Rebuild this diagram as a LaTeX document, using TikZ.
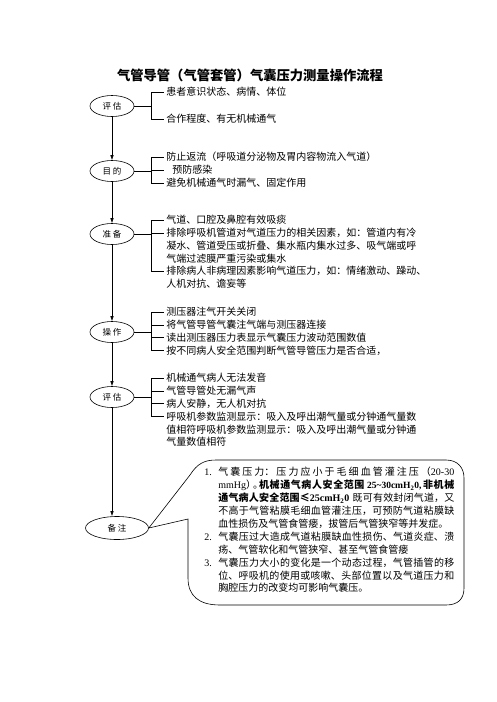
\documentclass[tikz,border=0pt]{standalone}
\usepackage{fontspec}
\setmainfont{Noto Sans CJK SC}
\newfontfamily\latinfont{Liberation Serif}
\XeTeXlinebreaklocale "zh"
\XeTeXlinebreakskip=0pt plus 2pt minus 0.7pt
\usetikzlibrary{arrows.meta,shapes.geometric}

\tikzset{
  stage/.style={draw, ellipse, minimum width=44pt, minimum height=21pt,
    inner sep=0pt, font=\fontsize{8.5}{10}\selectfont},
  item/.style={anchor=west, inner xsep=2pt, inner ysep=0pt,
    font=\fontsize{10}{12}\selectfont},
  flow/.style={-{Latex[length=5pt,width=3.5pt]}},
}

\begin{document}
\begin{tikzpicture}[x=1pt, y=-1pt, line width=0.6pt]
  \useasboundingbox (0,0) rectangle (496,702);

  % title
  \node[font=\fontsize{13.3}{15}\selectfont\bfseries] (title) at (250,75)
    {气管导管（气管套管）气囊压力测量操作流程};

  % stages
  \node[stage] (e1) at (112,106) {评\ 估};
  \node[stage] (e2) at (112,171) {目\ 的};
  \node[stage] (e3) at (112,234) {准\ 备};
  \node[stage] (e4) at (112,332) {操\ 作};
  \node[stage] (e5) at (112,397) {评\ 估};
  \node[stage, minimum width=63pt, minimum height=23pt] (bz) at (117,528) {备\ 注};

  \draw[flow] (e1) -- (e2);
  \draw[flow] (e2) -- (e3);
  \draw[flow] (e3) -- (e4);
  \draw[flow] (e4) -- (e5);
  \draw[flow] (e5.south) -- (e5.south |- bz.north);

  % item lines
  \foreach \txt [count=\i] in {患者意识状态、病情、体位, 合作程度、有无机械通气} {
    \node[item] (g1-\i) at (164,{92+27*(\i-1)}) {\txt};
  }
  \foreach \txt [count=\i] in {防止返流（呼吸道分泌物及胃内容物流入气道）,
      \hspace{6pt}预防感染, 避免机械通气时漏气、固定作用} {
    \node[item] (g2-\i) at (164,{157+13*(\i-1)}) {\txt};
  }
  \foreach \txt [count=\i] in {气道、口腔及鼻腔有效吸痰,
      排除呼吸机管道对气道压力的相关因素，如：管道内有冷,
      凝水、管道受压或折叠、集水瓶内集水过多、吸气端或呼,
      气端过滤膜严重污染或集水,
      排除病人非病理因素影响气道压力，如：情绪激动、躁动、,
      人机对抗、谵妄等} {
    \node[item] (g3-\i) at (164,{220+12.8*(\i-1)}) {\txt};
  }
  \foreach \txt [count=\i] in {测压器注气开关关闭, 将气管导管气囊注气端与测压器连接,
      读出测压器压力表显示气囊压力波动范围数值,
      按不同病人安全范围判断气管导管压力是否合适，} {
    \node[item] (g4-\i) at (164,{312+12.8*(\i-1)}) {\txt};
  }
  \foreach \txt [count=\i] in {机械通气病人无法发音, 气管导管处无漏气声,
      病人安静，无人机对抗,
      呼吸机参数监测显示：吸入及呼出潮气量或分钟通气量数,
      值相符呼吸机参数监测显示：吸入及呼出潮气量或分钟通,
      气量数值相符} {
    \node[item] (g5-\i) at (164,{378+12.8*(\i-1)}) {\txt};
  }

  % brackets
  \coordinate (b1) at (151,106);
  \coordinate (b2) at (151,171);
  \coordinate (b3) at (151,234);
  \coordinate (b4) at (151,332);
  \coordinate (b5) at (151,397);
  \foreach \k in {1,...,5} \draw (e\k.east) -- (b\k);
  \draw (b1 |- g1-1.west) -- (b1 |- g1-2.west);
  \draw (b2 |- g2-1.west) -- (b2 |- g2-3.west);
  \draw (b3 |- g3-1.west) -- (b3 |- g3-5.west);
  \draw (b4 |- g4-1.west) -- (b4 |- g4-4.west);
  \draw (b5 |- g5-1.west) -- (b5 |- g5-4.west);
  \foreach \i in {1,2} \draw (b1 |- g1-\i.west) -- (g1-\i.west);
  \foreach \i in {1,2,3} \draw (b2 |- g2-\i.west) -- (g2-\i.west);
  \foreach \i in {1,2,5} \draw (b3 |- g3-\i.west) -- (g3-\i.west);
  \foreach \i in {1,...,4} \draw (b4 |- g4-\i.west) -- (g4-\i.west);
  \foreach \i in {1,...,4} \draw (b5 |- g5-\i.west) -- (g5-\i.west);

  % callout
  \draw (bz.east) -- (190,475) .. controls (197,464) and (204,460) .. (216,460)
    -- (446,460) .. controls (458,460) and (464,468) .. (464,478)
    -- (464,588) .. controls (464,599) and (458,605) .. (446,605)
    -- (220,605) .. controls (199,605) and (188,596) .. (188,578)
    -- (188,519) -- cycle;

  \node[anchor=north west, inner sep=0pt, text width=250pt, align=justify,
        font=\fontsize{10}{12.9}\selectfont] (note) at (204,467) {%
    \parindent=0pt \tolerance=10000 \hbadness=10000
    \hangindent=14pt\hangafter=1\noindent\makebox[14pt][l]{\latinfont 1.}%
    气囊压力：压力应小于毛细血管灌注压（{\latinfont 20-30}\linebreak
    {\latinfont mmHg}）\kern-3pt。\kern-4pt{\bfseries 机械通气病人安全范围\hspace{2pt plus 2pt}{\latinfont\fontsize{9.5}{12.9}\selectfont 25\textasciitilde30cmH\textsubscript{2}0,}\hspace{1pt plus 2pt}非机械\linebreak
    通气病人安全范围≤{\latinfont 25cmH\textsubscript{2}0}}\hspace{3pt plus 2pt}既可有效封闭气道，又\linebreak
    不高于气管粘膜毛细血管灌注压，可预防气道粘膜缺\linebreak
    血性损伤及气管食管瘘，拔管后气管狭窄等并发症。\par
    \hangindent=14pt\hangafter=1\noindent\makebox[14pt][l]{\latinfont 2.}%
    气囊压过大造成气道粘膜缺血性损伤、气道炎症、溃\linebreak
    疡、气管软化和气管狭窄、甚至气管食管瘘\par
    \hangindent=14pt\hangafter=1\noindent\makebox[14pt][l]{\latinfont 3.}%
    气囊压力大小的变化是一个动态过程，气管插管的移\linebreak
    位、呼吸机的使用或咳嗽、头部位置以及气道压力和\linebreak
    胸腔压力的改变均可影响气囊压。\par};
\end{tikzpicture}
\end{document}
